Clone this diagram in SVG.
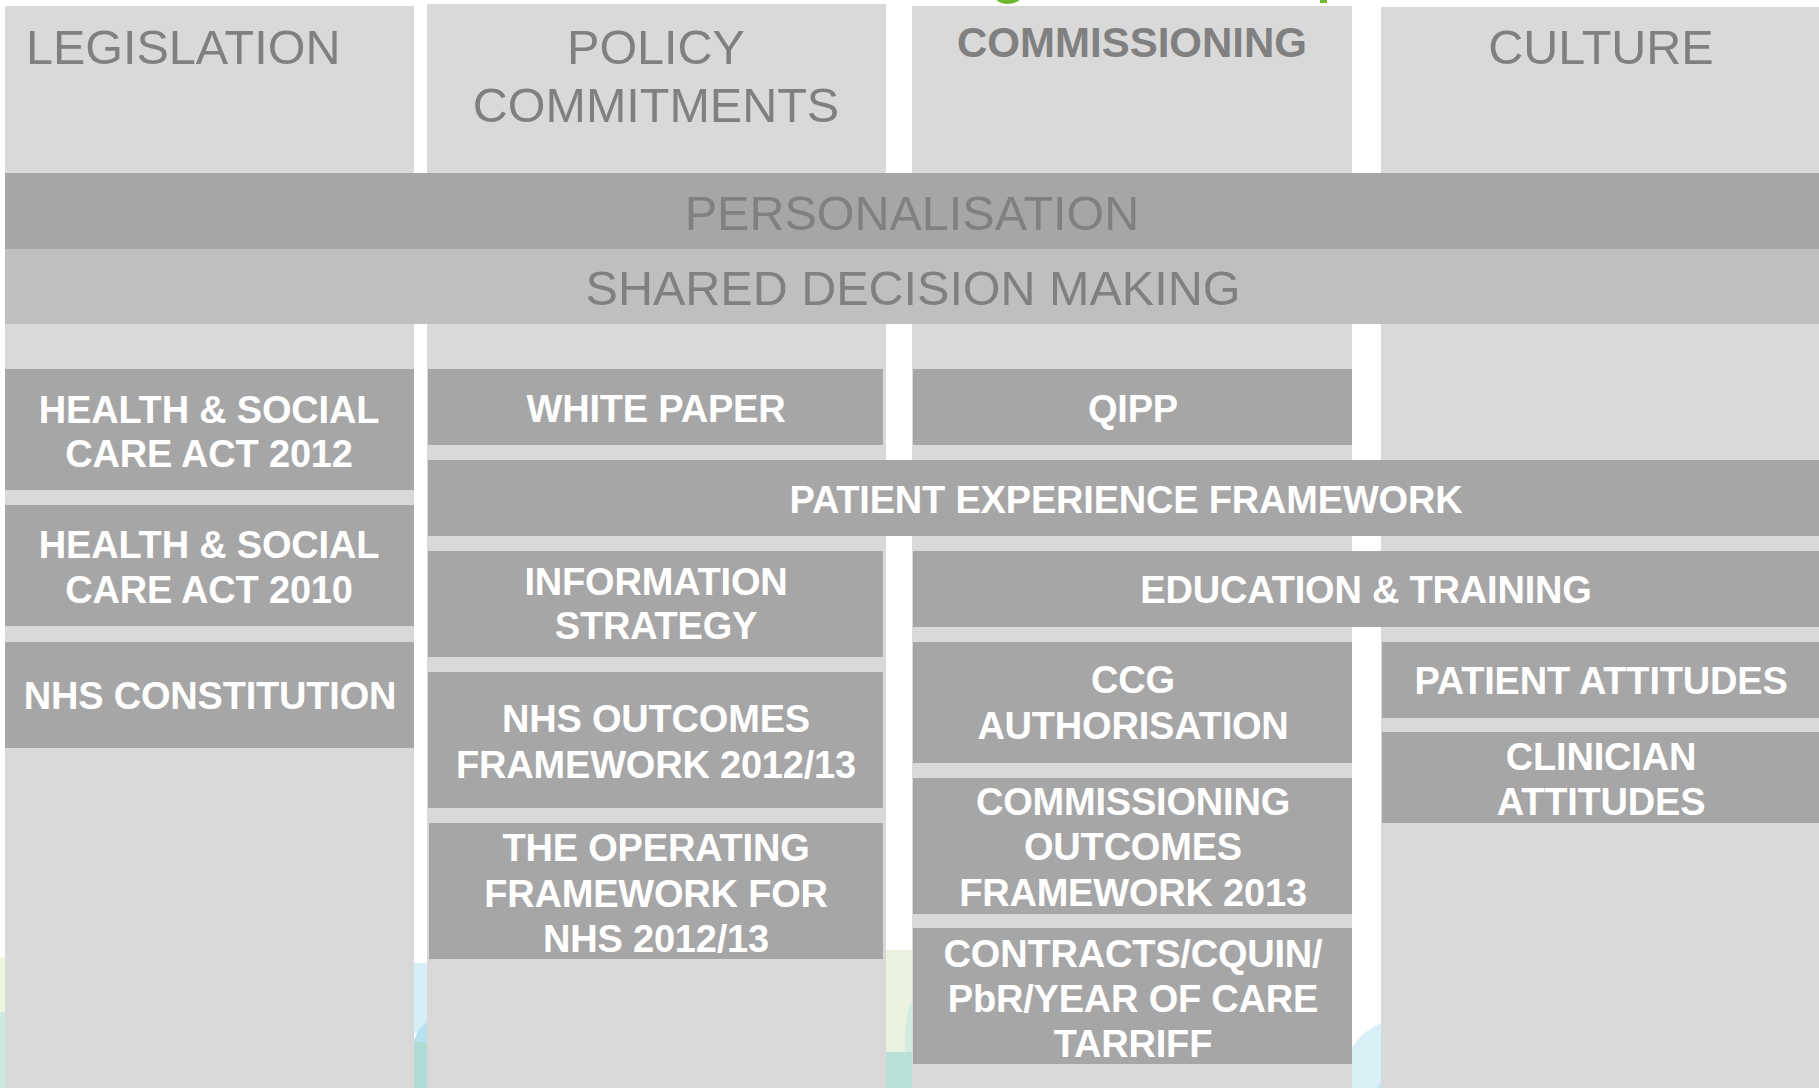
<svg xmlns="http://www.w3.org/2000/svg" width="1819" height="1088" viewBox="0 0 1819 1088">
  <style>
    .col { fill: #d9d9d9; }
    .box { fill: #a6a6a6; }
    .band2 { fill: #bfbfbf; }
    .head { font-family: "Liberation Sans", Arial, sans-serif; font-size: 48.5px; fill: #808080; }
    .headb { font-family: "Liberation Sans", Arial, sans-serif; font-size: 42px; font-weight: bold; fill: #808080; }
    .lbl { font-family: "Liberation Sans", Arial, sans-serif; font-size: 38px; font-weight: bold; fill: #ffffff; text-anchor: middle; letter-spacing: -0.2px; }
    .mid { text-anchor: middle; }
  </style>

  <!-- page background -->
  <rect x="0" y="0" width="1819" height="1088" fill="#ffffff"/>

  <!-- soft coloured backdrop showing through the gaps at the foot of the page -->
  <g id="backdrop">
    <rect x="0" y="957" width="6" height="55" fill="#eef5e0"/>
    <rect x="0" y="1012" width="6" height="76" fill="#cde8dc"/>
    <rect x="414" y="963" width="14" height="70" fill="#d6eef5"/>
    <path d="M414 1040 Q420 1024 428 1022 L428 1042 L414 1042 Z" fill="#b8e0ee"/>
    <rect x="414" y="1042" width="14" height="46" fill="#b0dcd5"/>
    <rect x="885" y="950" width="28" height="102" fill="#e9f2df"/>
    <path d="M905 1052 Q904 1010 913 1000 L913 1052 Z" fill="#d2ece0"/>
    <rect x="885" y="1052" width="28" height="36" fill="#b8e2d8"/>
    <circle cx="1400" cy="1075" r="55" fill="#daf0f7"/>
    <circle cx="1410" cy="1110" r="40" fill="#bfe6f2"/>
    <!-- green title marks along the top edge -->
    <ellipse cx="1008" cy="-7" rx="15" ry="11" fill="#6cb92c"/>
    <rect x="1320" y="0" width="7" height="3" fill="#6cb92c"/>
  </g>

  <!-- four column panels -->
  <g id="col-legislation">
    <rect class="col" x="5" y="6" width="409" height="1082"/>
    <text class="head" x="26" y="64">LEGISLATION</text>
  </g>
  <g id="col-policy">
    <rect class="col" x="427" y="4" width="459" height="1084"/>
    <text class="head mid" x="656" y="64">POLICY</text>
    <text class="head mid" x="656" y="122">COMMITMENTS</text>
  </g>
  <g id="col-commissioning">
    <rect class="col" x="912" y="6" width="440" height="1082"/>
    <text class="headb mid" x="1132" y="57">COMMISSIONING</text>
  </g>
  <g id="col-culture">
    <rect class="col" x="1381" y="7" width="438" height="1081"/>
    <text class="head mid" x="1601" y="64">CULTURE</text>
  </g>

  <!-- full-width bands -->
  <g id="personalisation">
    <rect class="box" x="5" y="173" width="1814" height="76"/>
    <text class="head mid" x="912" y="230">PERSONALISATION</text>
  </g>
  <g id="shared-decision-making">
    <rect class="band2" x="5" y="249" width="1814" height="75"/>
    <text class="head mid" x="913" y="305">SHARED DECISION MAKING</text>
  </g>

  <!-- legislation items -->
  <g id="hsca-2012">
    <rect class="box" x="5" y="369" width="409" height="121"/>
    <text class="lbl" x="209" y="423">HEALTH &amp; SOCIAL</text>
    <text class="lbl" x="209" y="467">CARE ACT 2012</text>
  </g>
  <g id="hsca-2010">
    <rect class="box" x="5" y="505" width="409" height="121"/>
    <text class="lbl" x="209" y="558">HEALTH &amp; SOCIAL</text>
    <text class="lbl" x="209" y="603">CARE ACT 2010</text>
  </g>
  <g id="nhs-constitution">
    <rect class="box" x="5" y="642" width="409" height="106"/>
    <text class="lbl" x="210" y="709">NHS CONSTITUTION</text>
  </g>

  <!-- policy items -->
  <g id="white-paper">
    <rect class="box" x="428" y="369" width="455" height="76"/>
    <text class="lbl" x="656" y="422">WHITE PAPER</text>
  </g>
  <g id="patient-experience-framework">
    <rect class="box" x="428" y="460" width="1391" height="76"/>
    <text class="lbl" x="1126" y="513">PATIENT EXPERIENCE FRAMEWORK</text>
  </g>
  <g id="information-strategy">
    <rect class="box" x="428" y="551" width="455" height="106"/>
    <text class="lbl" x="656" y="595">INFORMATION</text>
    <text class="lbl" x="656" y="639">STRATEGY</text>
  </g>
  <g id="nhs-outcomes-framework">
    <rect class="box" x="428" y="672" width="455" height="136"/>
    <text class="lbl" x="656" y="732">NHS OUTCOMES</text>
    <text class="lbl" x="656" y="778">FRAMEWORK 2012/13</text>
  </g>
  <g id="operating-framework">
    <rect class="box" x="429" y="823" width="454" height="136"/>
    <text class="lbl" x="656" y="861">THE OPERATING</text>
    <text class="lbl" x="656" y="907">FRAMEWORK FOR</text>
    <text class="lbl" x="656" y="952">NHS 2012/13</text>
  </g>

  <!-- commissioning items -->
  <g id="qipp">
    <rect class="box" x="913" y="369" width="439" height="76"/>
    <text class="lbl" x="1133" y="422">QIPP</text>
  </g>
  <g id="education-training">
    <rect class="box" x="913" y="551" width="906" height="76"/>
    <text class="lbl" x="1366" y="603">EDUCATION &amp; TRAINING</text>
  </g>
  <g id="ccg-authorisation">
    <rect class="box" x="913" y="642" width="439" height="121"/>
    <text class="lbl" x="1133" y="693">CCG</text>
    <text class="lbl" x="1133" y="739">AUTHORISATION</text>
  </g>
  <g id="commissioning-outcomes">
    <rect class="box" x="913" y="778" width="439" height="136"/>
    <text class="lbl" x="1133" y="815">COMMISSIONING</text>
    <text class="lbl" x="1133" y="860">OUTCOMES</text>
    <text class="lbl" x="1133" y="906">FRAMEWORK 2013</text>
  </g>
  <g id="contracts">
    <rect class="box" x="913" y="928" width="439" height="136"/>
    <text class="lbl" x="1133" y="967">CONTRACTS/CQUIN/</text>
    <text class="lbl" x="1133" y="1012">PbR/YEAR OF CARE</text>
    <text class="lbl" x="1133" y="1057">TARRIFF</text>
  </g>

  <!-- culture items -->
  <g id="patient-attitudes">
    <rect class="box" x="1382" y="642" width="437" height="76"/>
    <text class="lbl" x="1601" y="694">PATIENT ATTITUDES</text>
  </g>
  <g id="clinician-attitudes">
    <rect class="box" x="1382" y="732" width="437" height="91"/>
    <text class="lbl" x="1601" y="770">CLINICIAN</text>
    <text class="lbl" x="1601" y="815">ATTITUDES</text>
  </g>
</svg>
